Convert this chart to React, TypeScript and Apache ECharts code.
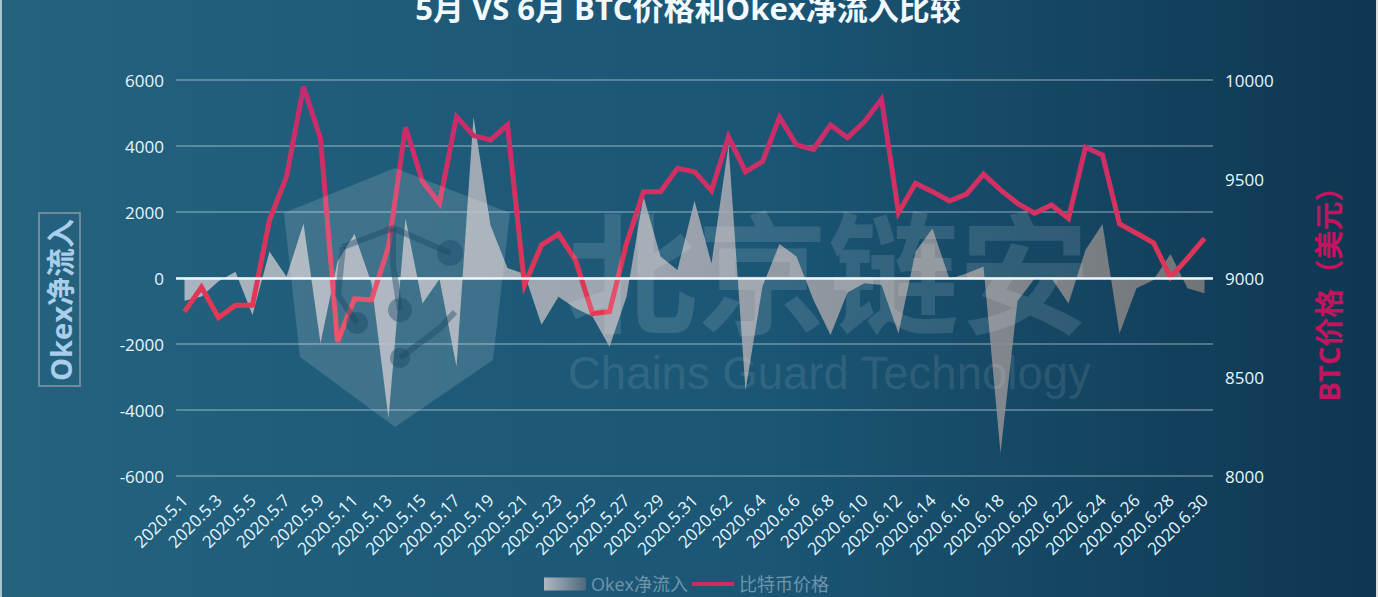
import React, { useEffect, useRef } from "react";
import * as echarts from "echarts";

const mayDays = Array.from({ length: 31 }, (_, i) => `2020.5.${i + 1}`);
const juneDays = Array.from({ length: 30 }, (_, i) => `2020.6.${i + 1}`);
const categories = [...mayDays, ...juneDays];

const okexFlow = [
  -690, -560, -100, 190, -1120, 800, 40, 1650, -1980, 500, 1330, -160, -4250, 1800, -770, -30, -2690, 4890, 1600, 300,
  120, -1420, -565, -920, -1170, -2080, -565, 2480, 650, 240, 2340, 440, 4030, -3410, -250, 1030, 650, -670, -1730, -440,
  -160, -210, -1680, 800, 1500, -30, 140, 350, -5300, -700, -20, -10, -770, 850, 1640, -1680, -310, -60, 730, -310, -460,
];
const btcPrice = [
  8830, 8953, 8800, 8862, 8862, 9293, 9512, 9966, 9705, 8678, 8895, 8890, 9158, 9761, 9487, 9377, 9815, 9719, 9697, 9773,
  8965, 9167, 9222, 9090, 8821, 8830, 9175, 9436, 9436, 9554, 9537, 9441, 9714, 9537, 9588, 9812, 9672, 9650, 9773, 9709,
  9790, 9903, 9330, 9478, 9436, 9389, 9424, 9525, 9445, 9377, 9327, 9369, 9301, 9660, 9621, 9273, 9226, 9178, 9003, 9099, 9200,
];

const FONT = '"Open Sans", "Noto Sans CJK SC", sans-serif';
const TICK = "#e6f7ff";

export default function App() {
  const ref = useRef<HTMLDivElement>(null);
  useEffect(() => {
    document.body.style.margin = "0";
    document.documentElement.style.overflow = "hidden";
    const chart = echarts.init(ref.current!, undefined, { renderer: "svg" });
    const wmFill = "rgba(255,255,255,0.14)";
    const wmDark = "rgba(24,72,100,0.42)";
    const wmStroke = { stroke: wmDark, lineWidth: 6, fill: "none" };
    const wmItem = { z: 21, silent: true };
    chart.setOption({
      animation: false,
      backgroundColor: new echarts.graphic.LinearGradient(0, 0, 1, 0, [
        { offset: 0, color: "#24627e" },
        { offset: 0.55, color: "#1b5675" },
        { offset: 1, color: "#0e3650" },
      ]),
      textStyle: { fontFamily: FONT },
      title: {
        text: "5月 VS 6月 BTC价格和Okex净流入比较",
        left: 683,
        textAlign: "center",
        top: -13,
        textStyle: { color: "#f2faff", fontSize: 31, fontWeight: "bold", fontFamily: FONT },
      },
      grid: { left: 176, right: 165, top: 80, height: 396 },
      legend: {
        left: 539,
        top: 570,
        itemWidth: 42,
        itemHeight: 13,
        itemGap: 4,
        textStyle: { color: "#6f95ab", fontSize: 18, fontFamily: FONT },
        data: [
          { name: "Okex净流入", icon: "rect" },
          { name: "比特币价格", icon: "path://M0,0L0,0M0,4.5L42,4.5L42,8.5L0,8.5ZM42,13L42,13" },
        ],
      },
      xAxis: {
        type: "category",
        data: categories,
        boundaryGap: true,
        axisLine: { show: false, onZero: false },
        axisTick: { show: false },
        axisLabel: { color: TICK, fontSize: 17, rotate: 45, interval: 1, margin: 21, fontFamily: FONT },
      },
      yAxis: [
        {
          type: "value",
          min: -6000,
          max: 6000,
          interval: 2000,
          axisLine: { show: false },
          axisTick: { show: false },
          axisLabel: { color: TICK, fontSize: 17, margin: 12, fontFamily: FONT, formatter: (v: number) => String(v) },
          splitLine: { lineStyle: { color: "rgba(190,215,228,0.36)", width: 2 } },
        },
        {
          type: "value",
          min: 8000,
          max: 10000,
          interval: 500,
          position: "right",
          axisLine: { show: false },
          axisTick: { show: false },
          axisLabel: { color: TICK, fontSize: 17, margin: 12, fontFamily: FONT, formatter: (v: number) => String(v) },
          splitLine: { show: false },
        },
      ],
      series: [
        {
          name: "Okex净流入",
          type: "line",
          z: 2,
          data: okexFlow,
          yAxisIndex: 0,
          symbol: "none",
          lineStyle: { width: 0 },
          itemStyle: {
            color: new echarts.graphic.LinearGradient(0, 0, 1, 0, [
              { offset: 0, color: "#b0b6c2" },
              { offset: 1, color: "#4f6a7c" },
            ]),
          },
          areaStyle: {
            opacity: 1,
            color: new echarts.graphic.LinearGradient(0, 0, 1, 0, [
              { offset: 0, color: "rgba(186,191,200,0.88)" },
              { offset: 0.5, color: "rgba(170,172,180,0.88)" },
              { offset: 1, color: "rgba(122,122,122,0.9)" },
            ]),
          },
          markLine: {
            silent: true,
            symbol: "none",
            label: { show: false },
            lineStyle: { color: "#eef7fb", width: 2.5, type: "solid" },
            data: [{ yAxis: 0 }],
          },
        },
        {
          name: "比特币价格",
          type: "line",
          z: 3,
          data: btcPrice,
          yAxisIndex: 1,
          symbol: "none",
          lineStyle: {
            width: 5,
            join: "miter",
            color: new echarts.graphic.LinearGradient(0, 0, 0, 1, [
              { offset: 0, color: "#c42a6e" },
              { offset: 1, color: "#e83a50" },
            ]),
          },
          itemStyle: { color: "#d02c62" },
        },
      ],
      graphic: [
        { type: "rect", z: 50, silent: true, shape: { x: 0, y: 0, width: 2, height: 597 }, style: { fill: "#a9c3cf" } },
        { type: "rect", z: 50, silent: true, shape: { x: 1376, y: 0, width: 2, height: 597 }, style: { fill: "#dcdcdc" } },
        {
          type: "rect",
          z: 10,
          silent: true,
          shape: { x: 39, y: 213, width: 41, height: 173 },
          style: { fill: "none", stroke: "#6f8c9c", lineWidth: 2 },
        },
        {
          type: "text",
          z: 11,
          silent: true,
          x: 60,
          y: 300,
          rotation: Math.PI / 2,
          style: {
            text: "Okex净流入",
            fill: "#a9cdea",
            font: `bold 29px ${FONT}`,
            align: "center",
            verticalAlign: "middle",
          },
        },
        {
          type: "text",
          z: 11,
          silent: true,
          x: 1328,
          y: 287,
          rotation: Math.PI / 2,
          style: {
            text: "BTC价格（美元）",
            fill: "#c4135f",
            font: `bold 29px ${FONT}`,
            align: "center",
            verticalAlign: "middle",
          },
        },
        {
          type: "polygon",
          z: 20,
          silent: true,
          shape: { points: [[395, 168], [510, 213], [493, 360], [395, 427], [300, 357], [284, 213]] },
          style: { fill: wmFill },
        },
        { type: "polyline", ...wmItem, shape: { points: [[343, 247], [393, 228], [450, 253]] }, style: wmStroke },
        { type: "polyline", ...wmItem, shape: { points: [[400, 358], [440, 328], [455, 312]] }, style: wmStroke },
        { type: "polyline", ...wmItem, shape: { points: [[343, 247], [338, 295], [357, 323]] }, style: wmStroke },
        { type: "polyline", ...wmItem, shape: { points: [[393, 228], [393, 265], [400, 310]] }, style: wmStroke },
        { type: "circle", ...wmItem, shape: { cx: 450, cy: 253, r: 13 }, style: { fill: wmDark } },
        { type: "circle", ...wmItem, shape: { cx: 400, cy: 310, r: 12 }, style: { fill: wmDark } },
        { type: "circle", ...wmItem, shape: { cx: 400, cy: 358, r: 10 }, style: { fill: wmDark } },
        { type: "circle", ...wmItem, shape: { cx: 357, cy: 323, r: 11 }, style: { fill: wmDark } },
        {
          type: "text",
          z: 20,
          silent: true,
          x: 566,
          y: 200,
          style: { text: "北京链安", fill: "rgba(255,255,255,0.12)", font: 'bold 131px "Noto Sans CJK SC", sans-serif' },
        },
        {
          type: "text",
          z: 20,
          silent: true,
          x: 568,
          y: 350,
          style: { text: "Chains Guard Technology", fill: "rgba(255,255,255,0.11)", font: '45.5px "Liberation Sans", sans-serif' },
        },
      ],
    });
    return () => chart.dispose();
  }, []);
  return <div ref={ref} style={{ width: 1378, height: 597 }} />;
}
